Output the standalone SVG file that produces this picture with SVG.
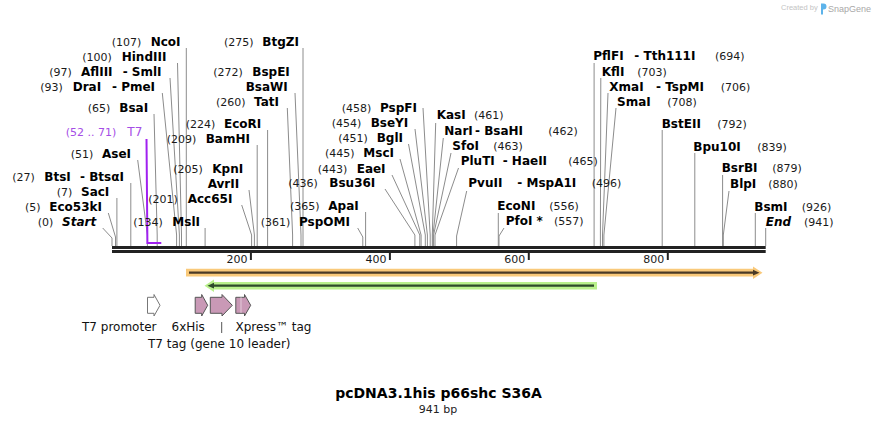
<svg xmlns="http://www.w3.org/2000/svg" width="878" height="425" viewBox="0 0 878 425">
<style>
text{font-family:"DejaVu Sans",Verdana,sans-serif}
.n{font-size:11px;fill:#1a1a1a}
.e{font-size:12px;font-weight:bold;fill:#000}
.i{font-style:italic}
.p{font-size:12px;fill:#a54ee6}
.pn{font-size:11px;fill:#a54ee6}
.f{font-size:12px;fill:#111}
.l{stroke:#8c8c8c;stroke-width:1;fill:none}
.tk{stroke:#222;stroke-width:2}
.pk{fill:#c999b6;stroke:#555;stroke-width:1}
</style>
<rect width="878" height="425" fill="#fff"/>

<g id="credit">
<text x="781" y="10" style="font-family:'Liberation Sans',Arial,sans-serif;font-size:7.5px;fill:#c4c4c4">Created by</text>
<path d="M821,3.5 h2.5 a3,3 0 0 1 0,6 h-0.5 v5 h-2 z" fill="#5db3ea"/>
<text x="828" y="12" style="font-family:'Liberation Sans',Arial,sans-serif;font-size:9px;fill:#a8a8a8">SnapGene</text>
</g>

<g id="connectors">
<path class="l" d="M186.3,48V246"/>
<path class="l" d="M177.5,63L181.5,235V246"/>
<path class="l" d="M170,78L179.4,235V246"/>
<path class="l" d="M162.3,93L176.6,235V246"/>
<path class="l" d="M154,114L157.2,235V246"/>
<path class="l" d="M137.7,160L147.4,235V246"/>
<path class="l" d="M130.8,183V246"/>
<path class="l" d="M116.9,198V246"/>
<path class="l" d="M108.3,213L115.5,237V246"/>
<path class="l" d="M102.7,228L112,238V246"/>
<path class="l" d="M303,48V246"/>
<path class="l" d="M295,93L301,235V246"/>
<path class="l" d="M287.3,108L292.6,235V246"/>
<path class="l" d="M267.6,130V246"/>
<path class="l" d="M257.2,145V246"/>
<path class="l" d="M249,190L254.4,235V246"/>
<path class="l" d="M241.7,205L251.6,235V246"/>
<path class="l" d="M205.1,228V246"/>
<path class="l" d="M357.7,228L362.8,237V246"/>
<path class="l" d="M365.6,212V246"/>
<path class="l" d="M385,189L414.9,235V246"/>
<path class="l" d="M392,175L419.8,235V246"/>
<path class="l" d="M400,159L421.1,235V246"/>
<path class="l" d="M408.5,144L425.3,235V246"/>
<path class="l" d="M415,129L427.4,235V246"/>
<path class="l" d="M423,108L430.2,235V246"/>
<path class="l" d="M435.7,123L432.3,235V246"/>
<path class="l" d="M443.3,138L433,235V246"/>
<path class="l" d="M451,153L433.6,235V246"/>
<path class="l" d="M458.5,168L435,235V246"/>
<path class="l" d="M466.7,191L456.6,236V246"/>
<path class="l" d="M498.3,213V246"/>
<path class="l" d="M504,228L499,236V246"/>
<path class="l" d="M594.1,63V246"/>
<path class="l" d="M600.8,78L600.4,235V246"/>
<path class="l" d="M608,93L602.5,235V246"/>
<path class="l" d="M616,108L603.9,235V246"/>
<path class="l" d="M662.2,130V246"/>
<path class="l" d="M694.8,153V246"/>
<path class="l" d="M722.6,175V246"/>
<path class="l" d="M729,191L723.3,235V246"/>
<path class="l" d="M755.3,213V246"/>
<path class="l" d="M765.7,228V246"/>
<path d="M146.5,139L147.4,243H161.3" fill="none" stroke="#a020f0" stroke-width="2"/>
</g>

<g id="backbone">
<rect x="112" y="246" width="653.7" height="3" fill="#222"/>
<rect x="112" y="250" width="653.7" height="3" fill="#222"/>
<line class="tk" x1="250.9" y1="253" x2="250.9" y2="260"/>
<line class="tk" x1="389.9" y1="253" x2="389.9" y2="260"/>
<line class="tk" x1="528.8" y1="253" x2="528.8" y2="260"/>
<line class="tk" x1="667.8" y1="253" x2="667.8" y2="260"/>
<text class="n" x="247.4" y="263" text-anchor="end">200</text>
<text class="n" x="386.4" y="263" text-anchor="end">400</text>
<text class="n" x="525.3" y="263" text-anchor="end">600</text>
<text class="n" x="664.3" y="263" text-anchor="end">800</text>
</g>

<g id="site-NcoI"><text class="n" x="111.7" y="46">(107)</text><text class="e" x="150.7" y="46">NcoI</text></g>
<g id="site-HindIII"><text class="n" x="82.3" y="61">(100)</text><text class="e" x="121.7" y="61">HindIII</text></g>
<g id="site-AflIII"><text class="n" x="49.3" y="76">(97)</text><text class="e" x="81" y="76">AflIII</text><text class="e" x="122.7" y="76">- SmlI</text></g>
<g id="site-DraI"><text class="n" x="40.3" y="91">(93)</text><text class="e" x="72.7" y="91">DraI</text><text class="e" x="112" y="91">- PmeI</text></g>
<g id="site-BsaI"><text class="n" x="87.7" y="112">(65)</text><text class="e" x="119.3" y="112">BsaI</text></g>
<g id="primer-T7"><text class="pn" x="65.7" y="136">(52 .. 71)</text><text class="p" x="127.3" y="136">T7</text></g>
<g id="site-AseI"><text class="n" x="70.7" y="158">(51)</text><text class="e" x="102" y="158">AseI</text></g>
<g id="site-BtsI"><text class="n" x="12.3" y="181">(27)</text><text class="e" x="44.3" y="181">BtsI</text><text class="e" x="80" y="181">- BtsαI</text></g>
<g id="site-SacI"><text class="n" x="56.7" y="196">(7)</text><text class="e" x="81" y="196">SacI</text></g>
<g id="site-Eco53kI"><text class="n" x="25" y="211">(5)</text><text class="e" x="49.3" y="211">Eco53kI</text></g>
<g id="site-Start"><text class="n" x="37.7" y="226">(0)</text><text class="e i" x="62" y="226">Start</text></g>

<g id="site-BtgZI"><text class="n" x="224" y="46">(275)</text><text class="e" x="262.3" y="46">BtgZI</text></g>
<g id="site-BspEI"><text class="n" x="213.3" y="76">(272)</text><text class="e" x="252.3" y="76">BspEI</text></g>
<g id="site-BsaWI"><text class="e" x="245.7" y="91">BsaWI</text></g>
<g id="site-TatI"><text class="n" x="216" y="106">(260)</text><text class="e" x="254" y="106">TatI</text></g>
<g id="site-EcoRI"><text class="n" x="185.7" y="128">(224)</text><text class="e" x="224" y="128">EcoRI</text></g>
<g id="site-BamHI"><text class="n" x="166.7" y="143">(209)</text><text class="e" x="205.7" y="143">BamHI</text></g>
<g id="site-KpnI"><text class="n" x="173.3" y="173.3">(205)</text><text class="e" x="212.3" y="173.3">KpnI</text></g>
<g id="site-AvrII"><text class="e" x="207.7" y="188">AvrII</text></g>
<g id="site-Acc65I"><text class="n" x="148.3" y="203.3">(201)</text><text class="e" x="187.7" y="203.3">Acc65I</text></g>
<g id="site-MslI"><text class="n" x="133.3" y="226">(134)</text><text class="e" x="172.3" y="226">MslI</text></g>
<g id="site-PspOMI"><text class="n" x="260.7" y="226">(361)</text><text class="e" x="299" y="226">PspOMI</text></g>
<g id="site-ApaI"><text class="n" x="290" y="210">(365)</text><text class="e" x="328.3" y="210">ApaI</text></g>
<g id="site-Bsu36I"><text class="n" x="288.3" y="186.7">(436)</text><text class="e" x="329.3" y="186.7">Bsu36I</text></g>
<g id="site-EaeI"><text class="n" x="317.7" y="172.7">(443)</text><text class="e" x="356.7" y="172.7">EaeI</text></g>
<g id="site-MscI"><text class="n" x="325" y="156.7">(445)</text><text class="e" x="363.3" y="156.7">MscI</text></g>
<g id="site-BglI"><text class="n" x="338.3" y="142.3">(451)</text><text class="e" x="376.7" y="142.3">BglI</text></g>
<g id="site-BseYI"><text class="n" x="331.7" y="126.7">(454)</text><text class="e" x="370.7" y="126.7">BseYI</text></g>
<g id="site-PspFI"><text class="n" x="341.7" y="111.7">(458)</text><text class="e" x="380" y="111.7">PspFI</text></g>

<g id="site-KasI"><text class="e" x="436.7" y="119.3">KasI</text><text class="n" x="474" y="119.3">(461)</text></g>
<g id="site-NarI"><text class="e" x="444.3" y="135">NarI</text><text class="e" x="475" y="135">- BsaHI</text><text class="n" x="548.3" y="135">(462)</text></g>
<g id="site-SfoI"><text class="e" x="452.3" y="150">SfoI</text><text class="n" x="493.3" y="150">(463)</text></g>
<g id="site-PluTI"><text class="e" x="460.7" y="165">PluTI</text><text class="e" x="502.7" y="165">- HaeII</text><text class="n" x="568.3" y="165">(465)</text></g>
<g id="site-PvuII"><text class="e" x="468.3" y="186.7">PvuII</text><text class="e" x="517.3" y="186.7">- MspA1I</text><text class="n" x="591.7" y="186.7">(496)</text></g>
<g id="site-EcoNI"><text class="e" x="497.3" y="210">EcoNI</text><text class="n" x="549.3" y="210">(556)</text></g>
<g id="site-PfoI"><text class="e" x="505.7" y="225">PfoI *</text><text class="n" x="554" y="225">(557)</text></g>
<g id="site-PflFI"><text class="e" x="593.3" y="60">PflFI</text><text class="e" x="634.3" y="60">- Tth111I</text><text class="n" x="715" y="60">(694)</text></g>
<g id="site-KflI"><text class="e" x="601.7" y="75.7">KflI</text><text class="n" x="637.3" y="75.7">(703)</text></g>
<g id="site-XmaI"><text class="e" x="609.3" y="90.7">XmaI</text><text class="e" x="656" y="90.7">- TspMI</text><text class="n" x="720.7" y="90.7">(706)</text></g>
<g id="site-SmaI"><text class="e" x="617" y="105.7">SmaI</text><text class="n" x="667.3" y="105.7">(708)</text></g>
<g id="site-BstEII"><text class="e" x="661.7" y="127.7">BstEII</text><text class="n" x="717.3" y="127.7">(792)</text></g>
<g id="site-Bpu10I"><text class="e" x="693.3" y="151">Bpu10I</text><text class="n" x="757.3" y="151">(839)</text></g>
<g id="site-BsrBI"><text class="e" x="721.7" y="172.3">BsrBI</text><text class="n" x="772.3" y="172.3">(879)</text></g>
<g id="site-BlpI"><text class="e" x="730" y="187.7">BlpI</text><text class="n" x="768.3" y="187.7">(880)</text></g>
<g id="site-BsmI"><text class="e" x="754.3" y="210.7">BsmI</text><text class="n" x="801.7" y="210.7">(926)</text></g>
<g id="site-End"><text class="e i" x="765.7" y="225.7">End</text><text class="n" x="804" y="225.7">(941)</text></g>

<g id="orf-forward">
<path d="M186,268.8H753V266.5L762.5,272.7L753,279V276.6H186Z" fill="#f9c97a"/>
<path d="M189,272.7H754" stroke="#4a3a26" stroke-width="2.2"/>
<path d="M753,269.8L759.5,272.7L753,275.6Z" fill="#4a3a26"/>
</g>
<g id="orf-reverse">
<path d="M597,281.9H214V279.5L204.5,285.7L214,292V289.6H597Z" fill="#b9f08c"/>
<path d="M212,285.7H594" stroke="#2e4a2a" stroke-width="2.2"/>
<path d="M214,282.8L207.5,285.7L214,288.6Z" fill="#2e4a2a"/>
</g>

<g id="feature-T7promoter">
<path d="M147.5,297.3H154V294.5L160,305.3L154,316V313.3H147.5Z" fill="#fff" stroke="#777" stroke-width="1"/>
<text class="f" x="82" y="331">T7 promoter</text>
</g>
<g id="feature-6xHis">
<path class="pk" d="M195.2,297.3H201.7V294.5L207.7,305.3L201.7,316V313.3H195.2Z"/>
<text class="f" x="171.5" y="331">6xHis</text>
</g>
<g id="feature-T7tag">
<path class="pk" d="M210.3,297.3H222V294.5L232.3,305.3L222,316V313.3H210.3Z"/>
<line x1="221.7" y1="322" x2="221.7" y2="333" stroke="#555" stroke-width="1"/>
<text class="f" x="148" y="348">T7 tag (gene 10 leader)</text>
</g>
<g id="feature-Xpress">
<path class="pk" d="M235.8,297.3H244.5V294.5L250.7,305.3L244.5,316V313.3H235.8Z"/>
<line x1="241" y1="297.5" x2="241" y2="313" stroke="#fff" stroke-width="1" stroke-dasharray="1,1"/>
<text class="f" x="235.5" y="331">Xpress™ tag</text>
</g>

<g id="title">
<text x="438.5" y="398.3" text-anchor="middle" style="font-size:14px;font-weight:bold;fill:#000">pcDNA3.1his p66shc S36A</text>
<text x="438" y="413.3" text-anchor="middle" style="font-size:11px;fill:#222">941 bp</text>
</g>
</svg>
